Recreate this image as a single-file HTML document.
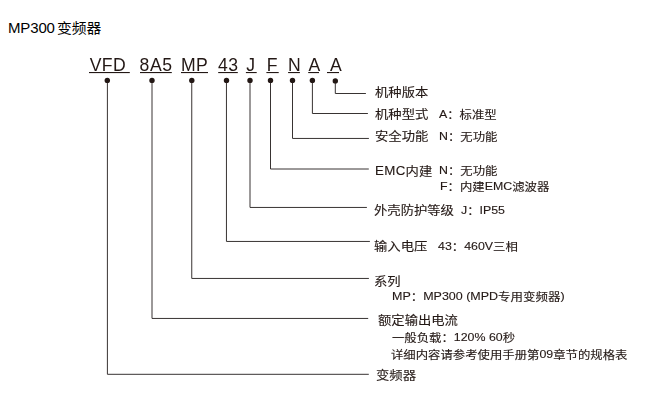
<!DOCTYPE html>
<html lang="zh-CN">
<head>
<meta charset="utf-8">
<title>MP300 变频器</title>
<style>
html,body{margin:0;padding:0;background:#fff;}
body{width:669px;height:406px;position:relative;overflow:hidden;font-family:"Liberation Sans","Noto Sans CJK SC",sans-serif;color:#231815;}
.t{position:absolute;white-space:nowrap;line-height:1;}
.lab,.det{-webkit-text-stroke:0.12px #231815;}
.title{left:8px;top:20px;font-size:15px;color:#000;word-spacing:-1.4px;letter-spacing:-0.15px;}
.code{top:57px;font-size:17.6px;letter-spacing:0.4px;}
.tc{display:inline-block;letter-spacing:0;font-size:14px;transform:scaleX(1.055);transform-origin:0 50%;vertical-align:baseline;}
.dia{position:absolute;left:0;top:0;width:669px;height:406px;will-change:transform;}
.lab{font-size:12px;transform:scaleX(1.11);transform-origin:0 0;}
.det{font-size:11.15px;transform:scaleX(1.11);transform-origin:0 0;}
.l{position:relative;top:-1px;}
svg{position:absolute;left:0;top:0;}
</style>
</head>
<body>
<svg width="669" height="406" viewBox="0 0 669 406">
<g fill="none" stroke="#383332" stroke-width="1">
<path d="M107.4 80 V374.3 H368.8"/>
<path d="M152 80 V318.45 H368.2"/>
<path d="M191.75 80 V278.45 H368.9"/>
<path d="M226.45 80 V241.45 H369.9"/>
<path d="M250 80 V207.45 H366.9"/>
<path d="M270.5 80 V169 H368.8"/>
<path d="M292.5 80 V138.45 H368.9"/>
<path d="M312.4 80 V113.5 H367.9"/>
<path d="M335.3 80 V93.5 H365.9"/>
</g>
<g fill="#231815">
<circle cx="107.3" cy="80.4" r="2.7"/>
<circle cx="152" cy="80.4" r="2.7"/>
<circle cx="191.8" cy="80.4" r="2.7"/>
<circle cx="226.5" cy="80.4" r="2.7"/>
<circle cx="250" cy="80.4" r="2.7"/>
<circle cx="270.5" cy="80.4" r="2.7"/>
<circle cx="292.5" cy="80.4" r="2.7"/>
<circle cx="312.4" cy="80.4" r="2.7"/>
<circle cx="335.3" cy="80.9" r="2.7"/>
</g>
<g fill="#231815">
<rect x="89.0" y="72" width="40.8" height="1.1"/>
<rect x="140.0" y="72" width="31.8" height="1.1"/>
<rect x="181.0" y="72" width="27.0" height="1.1"/>
<rect x="218.2" y="72" width="19.6" height="1.1"/>
<rect x="245.9" y="72" width="10.8" height="1.1"/>
<rect x="266.4" y="72" width="12.3" height="1.1"/>
<rect x="288.1" y="72" width="11.8" height="1.1"/>
<rect x="308.2" y="72" width="10.8" height="1.1"/>
<rect x="327.0" y="72" width="12.0" height="1.1"/>
</g>
</svg>
<div class="t title">MP300 <span class="tc">变频器</span></div>

<div class="dia">
<div class="t code" style="left:89.7px;letter-spacing:0.4px">VFD</div>
<div class="t code" style="left:139.6px;letter-spacing:0.6px">8A5</div>
<div class="t code" style="left:181px;letter-spacing:0.4px">MP</div>
<div class="t code" style="left:218px;letter-spacing:0.4px">43</div>
<div class="t code" style="left:246.2px;letter-spacing:0px">J</div>
<div class="t code" style="left:266.8px;letter-spacing:0px">F</div>
<div class="t code" style="left:288px;letter-spacing:0px">N</div>
<div class="t code" style="left:308.4px">A</div>
<div class="t code" style="left:330px">A</div>

<div class="t lab" style="left:375px;top:87px">机种版本</div>
<div class="t lab" style="left:375px;top:109px">机种型式</div>
<div class="t det" style="left:439px;top:110px"><span class="l">A</span>：标准型</div>
<div class="t lab" style="left:375px;top:131px">安全功能</div>
<div class="t det" style="left:439px;top:132px"><span class="l">N</span>：无功能</div>
<div class="t lab" style="left:375px;top:166px"><span class="l" style="letter-spacing:0.3px">EMC</span>内建</div>
<div class="t det" style="left:439px;top:166px"><span class="l">N</span>：无功能</div>
<div class="t det" style="left:440.3px;top:182px"><span class="l">F</span>：内建<span class="l">EMC</span>滤波器</div>
<div class="t lab" style="left:373.5px;top:205px">外壳防护等级</div>
<div class="t det" style="left:461px;top:206px"><span class="l">J</span>：<span class="l">IP55</span></div>
<div class="t lab" style="left:374px;top:241px">输入电压</div>
<div class="t det" style="left:438px;top:242px"><span class="l">43</span>：<span class="l">460V</span>三相</div>
<div class="t lab" style="left:374px;top:276px">系列</div>
<div class="t det" style="left:392px;top:292px;transform:scaleX(1.12)"><span class="l">MP</span>：<span class="l">MP300 (MPD</span>专用变频器<span class="l">)</span></div>
<div class="t lab" style="left:378px;top:315px">额定输出电流</div>
<div class="t det" style="left:392px;top:333px">一般负载：<span class="l">120% 60</span>秒</div>
<div class="t det" style="left:391px;top:350px">详细内容请参考使用手册第<span class="l">09</span>章节的规格表</div>
<div class="t lab" style="left:376px;top:370px">变频器</div>
</div>
</body>
</html>
